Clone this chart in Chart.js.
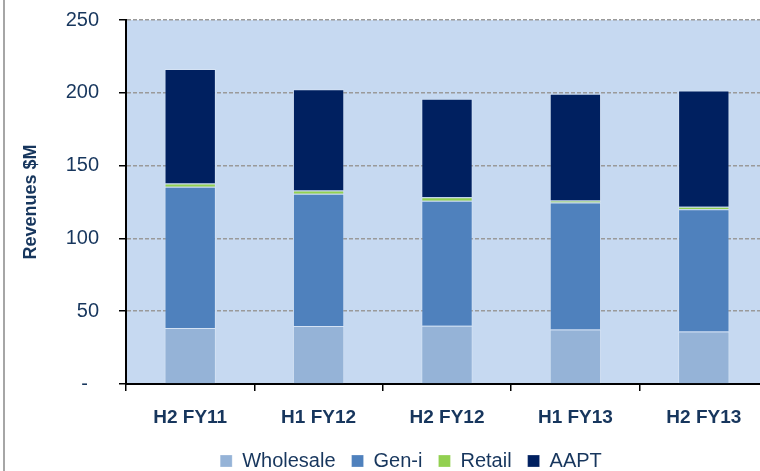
<!DOCTYPE html>
<html>
<head>
<meta charset="utf-8">
<script src="https://cdn.jsdelivr.net/npm/chart.js@4/dist/chart.umd.min.js"></script>
<style>
  html, body { margin: 0; padding: 0; background: #ffffff; overflow: hidden; }
  #wrap { position: relative; width: 760px; height: 471px; overflow: hidden; }
  #edge { position: absolute; left: 3px; top: 0; width: 2px; height: 471px; background: #a6a6a6; }
  canvas { position: absolute; left: 0; top: 0; }
</style>
</head>
<body>
<div id="wrap">
  <canvas id="revenue-chart" width="770" height="480"></canvas>
  <div id="edge"></div>
</div>
<script>
// half-year periods
let periods = ["H2 FY11", "H1 FY12", "H2 FY12", "H1 FY13", "H2 FY13"];

// revenues by unit, $M
let wholesale = [38.4, 39.9, 40.0, 37.5, 36.1];
let genI      = [97.0, 90.7, 85.8, 87.2, 84.0];
let retail    = [2.3, 2.3, 2.5, 1.3, 1.6];
let aapt      = [78.7, 69.6, 67.6, 73.3, 79.9];

let yTicks = [0, 50, 100, 150, 200, 250];

let textColor = "#17365d";
let fontName = "'Liberation Sans', Arial, sans-serif";

// light blue plot background
const plotBackground = {
    id: "plotBackground",
    beforeDraw(chart) {
        const a = chart.chartArea;
        const ctx = chart.ctx;
        ctx.save();
        ctx.fillStyle = "#c6d9f1";
        ctx.fillRect(a.left, a.top, a.right - a.left, a.bottom - a.top);
        ctx.restore();
    }
};

// legend sits a bit right of the canvas centre in the original
const nudgeLegend = {
    id: "nudgeLegend",
    afterLayout(chart) {
        chart.legend.left += 27;
        chart.legend.right += 27;
        chart.legend.top += 1;
        chart.legend.bottom += 1;
    }
};

function makeSet(label, data, color) {
    return {
        label: label,
        data: data,
        backgroundColor: color,
        borderColor: "rgba(255,255,255,0.25)",
        borderWidth: 1,
        barPercentage: 0.5,
        categoryPercentage: 0.8
    };
}

const ctx = document.getElementById("revenue-chart").getContext("2d");

let myChart = new Chart(ctx, {
    type: "bar",
    data: {
        labels: periods,
        datasets: [
            makeSet("Wholesale", wholesale, "#95b3d7"),
            makeSet("Gen-i", genI, "#4f81bd"),
            makeSet("Retail", retail, "#92d050"),
            makeSet("AAPT", aapt, "#002060")
        ]
    },
    options: {
        responsive: false,
        animation: false,
        devicePixelRatio: 1,
        layout: { padding: { top: 20, right: 2, left: 0, bottom: 0 } },
        plugins: {
            tooltip: { enabled: false },
            legend: {
                position: "bottom",
                labels: {
                    boxWidth: 12,
                    boxHeight: 12,
                    padding: 16,
                    color: textColor,
                    font: { family: fontName, size: 20 }
                }
            }
        },
        scales: {
            x: {
                stacked: true,
                offset: true,
                grid: {
                    offset: true,
                    drawOnChartArea: false,
                    color: "#000000",
                    tickLength: 7,
                    lineWidth: 1.5
                },
                border: { color: "#000000", width: 2 },
                ticks: {
                    color: textColor,
                    padding: 15,
                    font: { family: fontName, size: 19, weight: "bold" }
                },
                afterFit(scale) { scale.height = 50; }
            },
            y: {
                stacked: true,
                min: 0,
                max: 250,
                afterBuildTicks(scale) {
                    scale.ticks = yTicks.map(v => ({ value: v }));
                },
                grid: {
                    color: "#9a9a9a",
                    lineWidth: 1.5,
                    tickLength: 7,
                    tickColor: "#000000",
                    tickWidth: 1.5,
                    tickBorderDash: []
                },
                border: { color: "#000000", width: 2, dash: [4, 2] },
                ticks: {
                    color: textColor,
                    padding: 20,
                    font: { family: fontName, size: 20 },
                    callback: v => (v === 0 ? "-  " : v)
                },
                title: {
                    display: true,
                    text: "Revenues $M",
                    color: textColor,
                    padding: { top: 20, bottom: 0 },
                    font: { family: fontName, size: 18, weight: "bold" }
                },
                afterFit(scale) {
                    scale.width = 126;
                    scale.paddingTop = 0;
                    scale.paddingBottom = 0;
                }
            }
        }
    },
    plugins: [plotBackground, nudgeLegend]
});
</script>
</body>
</html>
